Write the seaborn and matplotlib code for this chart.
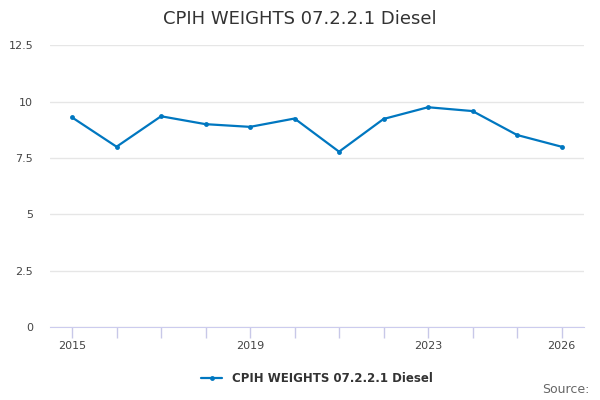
import matplotlib
matplotlib.use("Agg")
from matplotlib import pyplot as plt
import seaborn as sns

years = list(range(2015, 2027))
weights = [9.3, 8.0, 9.35, 9.0, 8.88, 9.25, 7.78, 9.23, 9.75, 9.58, 8.52, 8.0]
tick_labels = {2015: "2015", 2019: "2019", 2023: "2023", 2026: "2026"}
series_name = "CPIH WEIGHTS 07.2.2.1 Diesel"

sns.set_style("white")
plt.rcParams['font.family'] = ['DejaVu Sans']

fig = plt.figure(figsize=(6, 4), dpi=100)
ax = fig.add_axes([0.083, 0.182, 0.89, 0.705])
sns.lineplot(x=years, y=weights, ax=ax, color="#0077c0", marker="o",
             markersize=3.5, markeredgewidth=0, linewidth=1.6, label=series_name)

ax.set_xlim(2014.5, 2026.5)
ax.set_ylim(0, 12.5)
ax.set_yticks([0, 2.5, 5, 7.5, 10, 12.5])
ax.set_yticklabels(["0", "2.5", "5", "7.5", "10", "12.5"])
ax.set_xticks(years)
ax.set_xticklabels([tick_labels.get(y, "") for y in years])
ax.tick_params(axis="x", direction="out", bottom=True, length=8, width=1,
               color="#c8c8e8", labelsize=8, labelcolor="#444444", pad=2)
ax.tick_params(axis="y", length=0, labelsize=8, labelcolor="#444444", pad=12)
ax.yaxis.grid(True, color="#e6e6e6", linewidth=1)
for s in ["top", "right", "left"]:
    ax.spines[s].set_visible(False)
ax.spines["bottom"].set_color("#ccccee")
ax.set_xlabel("")
ax.set_ylabel("")

ax.legend(loc="upper center", bbox_to_anchor=(0.5, -0.12), frameon=False,
          prop={"size": 8.5, "weight": "bold"}, handlelength=1.8, labelcolor="#333333")
fig.suptitle(series_name, x=0.5, y=0.975, fontsize=13, color="#333333")
fig.text(0.982, 0.01, "Source:", ha="right", va="bottom", fontsize=9, color="#666666")

fig.savefig("out.png", dpi=100)
